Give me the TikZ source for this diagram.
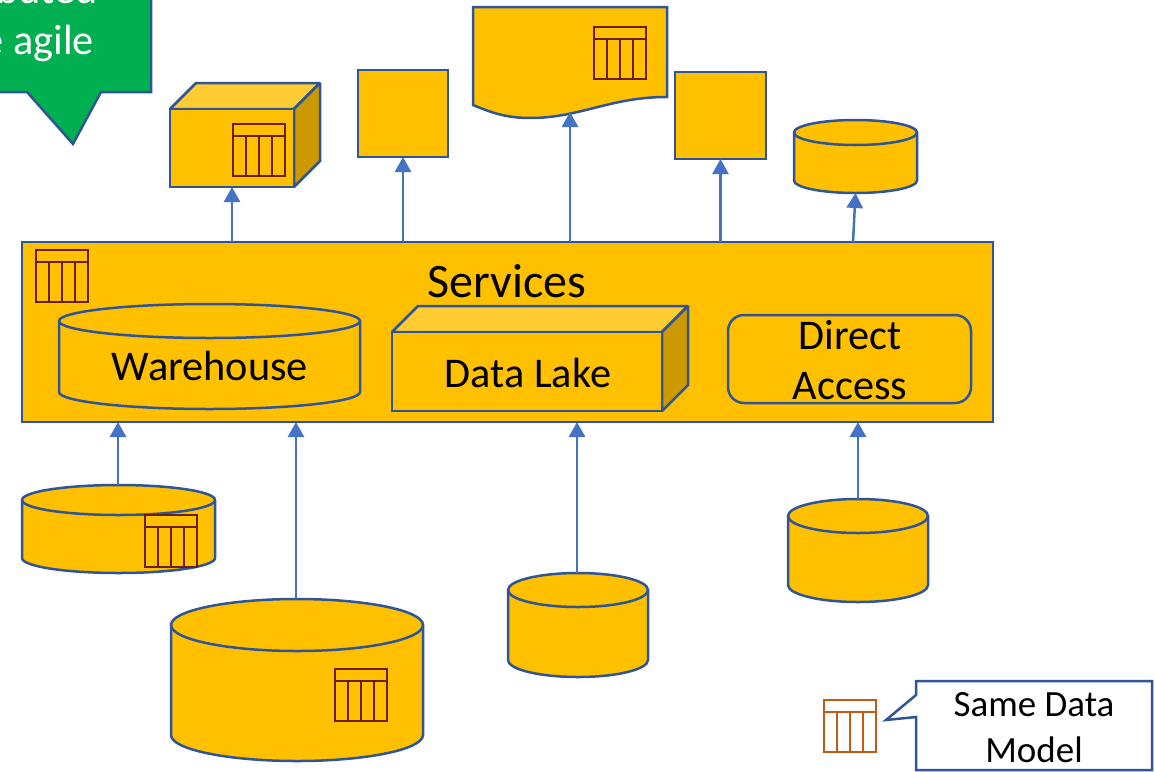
\documentclass[tikz,border=0pt]{standalone}
\usepackage{fontspec}
\setmainfont{Carlito}
\definecolor{amber}{HTML}{FFC000}
\definecolor{amberlight}{HTML}{FFCD33}
\definecolor{amberdark}{HTML}{CC9A00}
\definecolor{edge}{HTML}{2F5597}
\definecolor{arrowblue}{HTML}{4472C4}
\definecolor{greenbox}{HTML}{00B050}
\definecolor{iconhalo}{HTML}{D9701E}
\definecolor{icondark}{HTML}{6B1F10}
\definecolor{iconlight}{HTML}{C55A11}
\tikzset{
  shapeline/.style={draw=edge,line width=2.5pt,line join=miter,miter limit=2,fill=amber},
  anchorbox/.style={inner sep=0pt,outer sep=0pt,draw=none,fill=none},
  conn/.style={draw=arrowblue,line width=2.5pt,-{Triangle[width=16pt,length=15pt]}},
  bigtext/.style={font=\fontsize{42.3}{46}\selectfont,text=black,inner sep=0pt,align=center},
}
\usetikzlibrary{arrows.meta}
% name, left, top, right, bottom, ellipse half height
\newcommand{\cylshape}[6]{%
  \pgfmathsetmacro{\cylrx}{(#4-#2)/2}
  \pgfmathsetmacro{\cylcx}{(#4+#2)/2}
  \pgfmathsetmacro{\cylcy}{(#3+#5)/2}
  \pgfmathsetmacro{\cylw}{#4-#2}
  \pgfmathsetmacro{\cylh}{#5-#3}
  \draw[shapeline] (#2,-#3-#6) arc (180:0:\cylrx pt and #6pt) -- (#4,-#5+#6) arc (360:180:\cylrx pt and #6pt) -- cycle;
  \draw[shapeline,fill=none] (#2,-#3-#6) arc (180:360:\cylrx pt and #6pt);
  \node[anchorbox,minimum width=\cylw pt,minimum height=\cylh pt] (#1) at (\cylcx,-\cylcy) {};
}
% name, left, top, right, bottom, depth
\newcommand{\cubeshape}[6]{%
  \pgfmathsetmacro{\cubew}{#4-#2}
  \pgfmathsetmacro{\cubeh}{#5-#3}
  \pgfmathsetmacro{\cubecx}{(#4+#2)/2}
  \pgfmathsetmacro{\cubecy}{(#3+#5)/2}
  \draw[shapeline,fill=amberlight] (#2,-#3) -- (#2+#6,-#3+#6) -- (#4+#6,-#3+#6) -- (#4,-#3) -- cycle;
  \draw[shapeline,fill=amberdark] (#4,-#3) -- (#4+#6,-#3+#6) -- (#4+#6,-#5+#6) -- (#4,-#5) -- cycle;
  \node[shapeline,inner sep=0pt,outer sep=0pt,minimum width=\cubew pt,minimum height=\cubeh pt] (#1) at (\cubecx,-\cubecy) {};
}
% left, top, outer colour, inner colour
\newcommand{\tableicon}[4]{%
  \foreach \layercol/\layerw in {#3/2.4pt,#4/1.2pt}{
    \draw[draw=\layercol,line width=\layerw]
      (#1,-#2) rectangle (#1+52,-#2-52)
      (#1,-#2-12) -- (#1+52,-#2-12)
      (#1+13,-#2-12) -- (#1+13,-#2-52)
      (#1+26,-#2-12) -- (#1+26,-#2-52)
      (#1+39,-#2-12) -- (#1+39,-#2-52);
  }
}
\begin{document}
\begin{tikzpicture}[x=1pt,y=1pt]
\useasboundingbox (0,-771) rectangle (1155,0);
\clip (0,-771) rectangle (1155,0);
\fill[white] (0,-771) rectangle (1155,0);

% green callout
\draw[draw=edge,line width=2.5pt,fill=greenbox] (-10,10) -- (151,10) -- (151,-92) -- (101,-92) -- (73,-144) -- (27,-92) -- (-10,-92) -- cycle;
\node[bigtext,text=white,anchor=base east] (calloutA) at (98,-4) {ibuted};
\node[bigtext,text=white,anchor=base east] (calloutB) at (94,-54) {e agile};

% central block
\node[shapeline,inner sep=0pt,outer sep=0pt,minimum width=971pt,minimum height=180pt] (svc) at (507.5,-332) {};
\node[bigtext,font=\fontsize{48}{52}\selectfont] (svclabel) at (507,-281) {Services};
\tableicon{36}{250}{iconhalo}{icondark}
\cylshape{wh}{59}{304}{360}{409}{17}
\node[bigtext] (whlabel) at (210,-366) {Warehouse};
\cubeshape{lake}{392}{332}{662}{411}{26}
\node[bigtext] (lakelabel) at (528,-373) {Data Lake};
\node[shapeline,rounded corners=16pt,inner sep=0pt,outer sep=0pt,minimum width=243pt,minimum height=88pt] (direct) at (849.5,-359) {};
\node[bigtext] (directA) at (850,-335) {Direct};
\node[bigtext] (directB) at (850,-386) {Access};

% top row
\cubeshape{outA}{170}{109}{294}{187}{26}
\tableicon{233}{124}{iconhalo}{icondark}
\node[shapeline,inner sep=0pt,outer sep=0pt,minimum width=90pt,minimum height=87pt] (outB) at (403,-113.5) {};
\draw[shapeline] (473,-7) -- (667,-7) -- (667,-97) .. controls (610,-97) and (580,-118) .. (530,-118) .. controls (505,-118) and (490,-112) .. (473,-105) -- cycle;
\node[anchorbox,minimum width=194pt,minimum height=105pt] (outC) at (570,-59.5) {};
\tableicon{594}{27}{iconhalo}{icondark}
\node[shapeline,inner sep=0pt,outer sep=0pt,minimum width=91pt,minimum height=87pt] (outD) at (720.5,-115.5) {};
\cylshape{outE}{794}{120}{917}{193}{12.5}

% bottom row
\cylshape{srcA}{22}{485}{215}{573}{15}
\tableicon{145}{515}{iconhalo}{icondark}
\cylshape{srcB}{171}{599}{423}{761}{26}
\tableicon{335}{669}{iconhalo}{icondark}
\cylshape{srcC}{508}{573}{648}{677}{17}
\cylshape{srcD}{788}{499}{928}{602}{17}

% connectors
\coordinate (svcOutE) at (853,-242);
\coordinate (outCtip) at (570,-112);
\coordinate (svcInA) at (118,-422);
\coordinate (svcInB) at (296,-422);
\coordinate (svcInC) at (577,-422);
\coordinate (svcInD) at (858,-422);
\coordinate (srcAtop) at (118,-485);
\coordinate (srcBtop) at (296,-599);
\coordinate (srcCtop) at (577,-573);
\coordinate (srcDtop) at (858,-499);
\coordinate (outAbot) at (232,-187);
\draw[conn] (svc.north -| outAbot) -- (outAbot);
\draw[conn] (svc.north -| outB.south) -- (outB.south);
\draw[conn] (svc.north -| outCtip) -- (outCtip);
\draw[conn] (svc.north -| outD.south) -- (outD.south);
\draw[conn] (svcOutE) -- (outE.south);
\draw[conn] (srcAtop) -- (svcInA);
\draw[conn] (srcBtop) -- (svcInB);
\draw[conn] (srcCtop) -- (svcInC);
\draw[conn] (srcDtop) -- (svcInD);

% legend
\tableicon{824}{700}{iconlight}{iconlight}
\draw[draw=edge,line width=2.5pt,fill=white] (916,-681) -- (1152,-681) -- (1152,-770) -- (916,-770) -- (916,-717) -- (886,-720) -- (916,-695) -- cycle;
\node[bigtext,font=\fontsize{37}{40}\selectfont] (legendA) at (1034,-705) {Same Data};
\node[bigtext,font=\fontsize{37}{40}\selectfont] (legendB) at (1034,-750) {Model};
\end{tikzpicture}
\end{document}
